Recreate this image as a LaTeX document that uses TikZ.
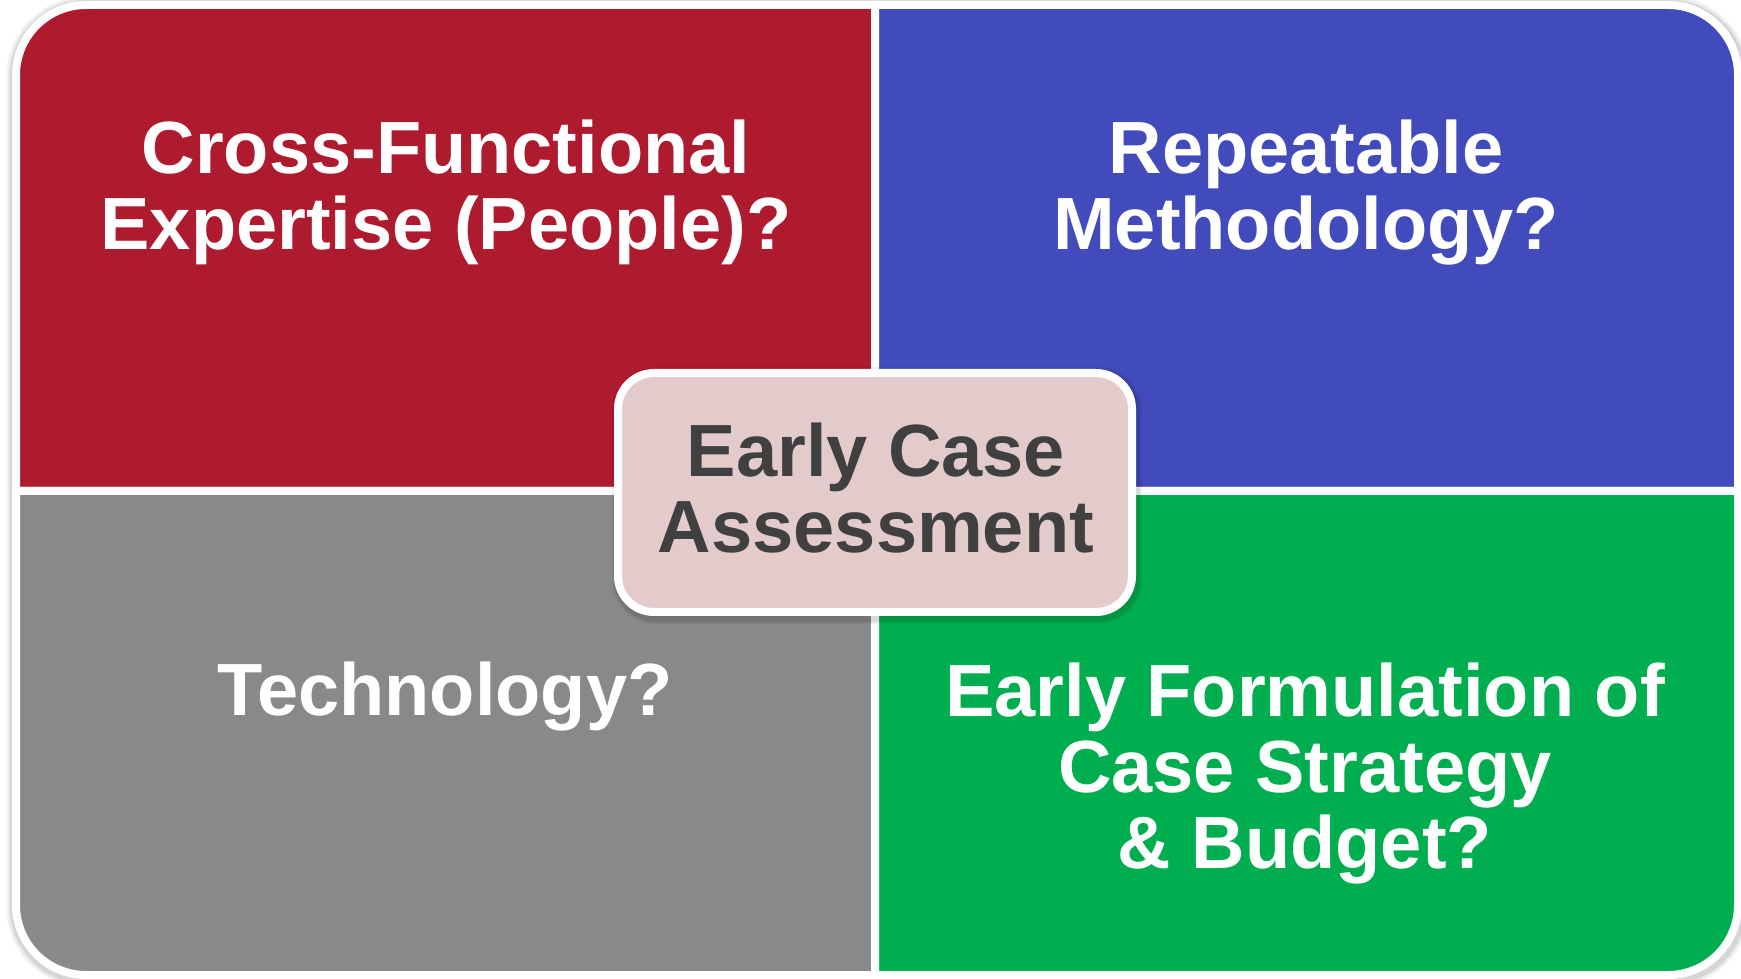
\documentclass[tikz,border=0pt]{standalone}
\usepackage{fontspec}
\setmainfont{Liberation Sans}
\definecolor{qred}{HTML}{AE1A2E}
\definecolor{qblue}{HTML}{424BBB}
\definecolor{qgray}{HTML}{898989}
\definecolor{qgreen}{HTML}{00AE4F}
\definecolor{cpink}{HTML}{E3CBCC}
\definecolor{ctext}{HTML}{404040}
\tikzset{
  quad/.style={draw=white, line width=8pt, line join=miter},
  qtext/.style={text=white, font=\fontsize{74}{76}\selectfont\bfseries, align=center, anchor=base, inner sep=0pt},
  ctr/.style={text=ctext, font=\fontsize{74}{76}\selectfont\bfseries, align=center, anchor=base, inner sep=0pt},
}
\begin{document}
\begin{tikzpicture}[x=1pt,y=1pt]
\useasboundingbox (0,0) rectangle (1741,978);
% soft outer shadow
\foreach \w/\o in {22/0.04,18/0.06,14/0.08}{
  \draw[line width=\w pt, black, opacity=\o, rounded corners=70]
    (17,1) rectangle (1739,971);
}
% quadrants
\filldraw[quad, fill=qred]
  (16,487) -- (16,903) arc[start angle=180, end angle=90, radius=70] -- (875,973) -- (875,487) -- cycle;
\filldraw[quad, fill=qblue]
  (875,487) -- (875,973) -- (1668,973) arc[start angle=90, end angle=0, radius=70] -- (1738,487) -- cycle;
\filldraw[quad, fill=qgray]
  (16,487) -- (16,73) arc[start angle=180, end angle=270, radius=70] -- (875,3) -- (875,487) -- cycle;
\filldraw[quad, fill=qgreen]
  (875,487) -- (875,3) -- (1668,3) arc[start angle=270, end angle=360, radius=70] -- (1738,487) -- cycle;
% center box shadow
\foreach \w/\o in {16/0.06,12/0.09}{
  \draw[line width=\w pt, black, opacity=\o, rounded corners=36]
    (620,362) rectangle (1134,603);
}
\filldraw[fill=cpink, draw=white, line width=8pt, rounded corners=36]
  (618,366) rectangle (1132,605);
% texts (base anchor = baseline of last line)
\node[qtext] (tred) at (446,728) {Cross-Functional\\Expertise (People)?};
\node[qtext] (tblue) at (1306,728) {Repeatable\\Methodology?};
\node[qtext] (tgray) at (445,262) {Technology?};
\node[qtext] (tgreen) at (1305,110) {Early Formulation of\\Case Strategy\\\& Budget?};
\node[ctr] (tctr) at (876,425) {Early Case\\Assessment};
\end{tikzpicture}
\end{document}
